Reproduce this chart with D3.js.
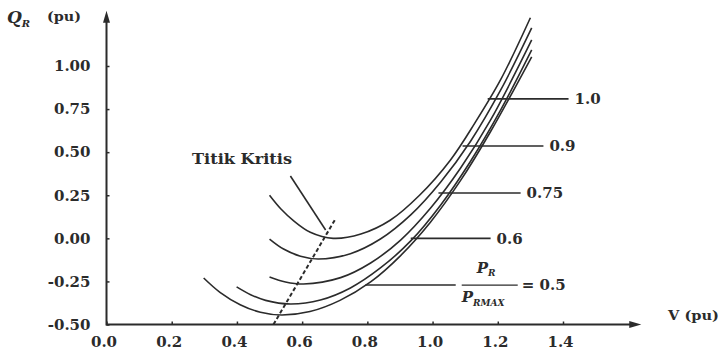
<html>
<head>
<title>Q-V curves</title>
<script src="https://d3js.org/d3.v7.min.js"></script>
<style>
    body { margin: 0; background: #fff; }
    text { font-family: "DejaVu Serif", serif; font-weight: bold; fill: #2b2b2b; }
</style>
</head>
<body>
<div id="chart"></div>
<script type="text/javascript">
    // Data (V and Q_R in pu) ********************************************
    var ratios = ["1.0", "0.9", "0.75", "0.6", "0.5"];

    var vP10 = [0.50, 0.535, 0.575, 0.625, 0.695, 0.78, 0.87, 0.96, 1.055, 1.13, 1.21, 1.30];
    var qP10 = [0.25, 0.17, 0.10, 0.035, 0.0, 0.025, 0.105, 0.25, 0.455, 0.67, 0.925, 1.28];

    var vP09 = [0.50, 0.543, 0.595, 0.65, 0.748, 0.84, 0.933, 1.025, 1.117, 1.209, 1.304];
    var qP09 = [-0.004, -0.062, -0.104, -0.12, -0.089, -0.004, 0.136, 0.327, 0.565, 0.861, 1.221];

    var vP075 = [0.50, 0.549, 0.604, 0.718, 0.81, 0.902, 0.994, 1.086, 1.178, 1.304];
    var qP075 = [-0.224, -0.253, -0.265, -0.228, -0.143, -0.01, 0.176, 0.408, 0.687, 1.151];

    var vP06 = [0.399, 0.442, 0.488, 0.564, 0.656, 0.748, 0.84, 0.933, 1.025, 1.117, 1.209, 1.304];
    var qP06 = [-0.282, -0.327, -0.36, -0.381, -0.358, -0.288, -0.172, -0.015, 0.194, 0.449, 0.745, 1.093];

    var vP05 = [0.298, 0.348, 0.41, 0.472, 0.537, 0.624, 0.716, 0.81, 0.902, 0.994, 1.086, 1.178, 1.304];
    var qP05 = [-0.23, -0.313, -0.385, -0.429, -0.445, -0.425, -0.36, -0.253, -0.10, 0.095, 0.336, 0.62, 1.053];

    // dashed critical-point line and its pointer
    var critV = [0.512, 0.702];
    var critQ = [-0.5, 0.112];
    var pointerV = [0.564, 0.672];
    var pointerQ = [0.362, 0.048];

    // leader lines to the ratio labels
    var leaderQ = [0.809, 0.536, 0.263, 0.0, -0.271];
    var leaderV0 = [1.169, 1.092, 1.018, 0.933, 0.794];
    var leaderV1 = [1.417, 1.340, 1.270, 1.178, 1.071];

    var xTicks = [0.0, 0.2, 0.4, 0.6, 0.8, 1.0, 1.2, 1.4];
    var yTicks = [-0.50, -0.25, 0.00, 0.25, 0.50, 0.75, 1.00];

    // Setup ***********************
    var W = 719, H = 352;
    var ink = "#2b2b2b";

    var x = d3.scaleLinear().domain([0, 1.4]).range([106.5, 563]);
    var y = d3.scaleLinear().domain([-0.5, 1.0]).range([324.5, 66]);

    var svg = d3.select("#chart").append("svg")
        .attr("width", W)
        .attr("height", H);

    // Axes ***********************
    var xAxis = svg.append("g")
        .attr("transform", "translate(0," + y(-0.5) + ")")
        .call(d3.axisBottom(x).tickValues(xTicks).tickSize(-3).tickPadding(12)
            .tickFormat(function (d) { return d.toFixed(1); }));

    var yAxis = svg.append("g")
        .attr("transform", "translate(" + x(0) + ",0)")
        .call(d3.axisLeft(y).tickValues(yTicks).tickSize(-3).tickPadding(16)
            .tickFormat(function (d) { return d.toFixed(2); }));

    [xAxis, yAxis].forEach(function (g) {
        g.select(".domain").remove();
        g.attr("font-family", null).attr("font-size", null);
        g.selectAll(".tick line").attr("stroke", ink).attr("stroke-width", 1.5);
        g.selectAll(".tick text").attr("fill", ink).style("font-size", "15px");
    });
    xAxis.selectAll(".tick text").attr("dx", -3);

    var xEnd = x(1.64), yTop = y(1.32);

    // axis lines with arrow heads
    svg.append("line")
        .attr("x1", x(0)).attr("y1", y(-0.5))
        .attr("x2", xEnd - 6).attr("y2", y(-0.5))
        .attr("stroke", ink).attr("stroke-width", 2);
    svg.append("line")
        .attr("x1", x(0)).attr("y1", y(-0.5) + 1)
        .attr("x2", x(0)).attr("y2", yTop + 6)
        .attr("stroke", ink).attr("stroke-width", 2);

    svg.append("path")
        .attr("d", "M" + xEnd + "," + y(-0.5) + " l-12,-3.5 l0,7 z")
        .attr("fill", ink);
    svg.append("path")
        .attr("d", "M" + x(0) + "," + yTop + " l-3.5,12 l7,0 z")
        .attr("fill", ink);

    // axis titles
    var qLabel = svg.append("text").attr("x", 7).attr("y", 23);
    qLabel.append("tspan").style("font-style", "italic").style("font-size", "17px").text("Q");
    qLabel.append("tspan").style("font-style", "italic").style("font-size", "10px")
        .attr("dy", 4).text("R");

    svg.append("text")
        .attr("x", 47).attr("y", 21)
        .attr("textLength", 34).attr("lengthAdjust", "spacingAndGlyphs")
        .style("font-size", "12px")
        .text("(pu)");

    svg.append("text")
        .attr("x", 668).attr("y", 320)
        .attr("textLength", 51).attr("lengthAdjust", "spacingAndGlyphs")
        .style("font-size", "12px")
        .text("V (pu)");

    // Curves ***********************
    var series = [
        {key: "1.0", v: vP10, q: qP10},
        {key: "0.9", v: vP09, q: qP09},
        {key: "0.75", v: vP075, q: qP075},
        {key: "0.6", v: vP06, q: qP06},
        {key: "0.5", v: vP05, q: qP05}
    ];

    var line = d3.line()
        .x(function (d) { return x(d[0]); })
        .y(function (d) { return y(d[1]); })
        .curve(d3.curveCatmullRom.alpha(0.5));

    svg.selectAll(".curve")
        .data(series)
        .enter()
        .append("path")
        .attr("class", "curve")
        .attr("fill", "none")
        .attr("stroke", ink)
        .attr("stroke-width", 1.6)
        .attr("d", function (s) {
            return line(s.v.map(function (v, i) { return [v, s.q[i]]; }));
        });

    // critical point line (dashed) and pointer
    svg.append("path")
        .attr("fill", "none")
        .attr("stroke", ink)
        .attr("stroke-width", 2)
        .attr("stroke-dasharray", "4,2.5")
        .attr("d", d3.line()([[x(critV[0]), y(critQ[0])], [x(critV[1]), y(critQ[1])]]));

    svg.append("path")
        .attr("fill", "none")
        .attr("stroke", ink)
        .attr("stroke-width", 1.6)
        .attr("d", d3.line()([[x(pointerV[0]), y(pointerQ[0])], [x(pointerV[1]), y(pointerQ[1])]]));

    svg.append("text")
        .attr("x", 192).attr("y", 164)
        .attr("textLength", 100).attr("lengthAdjust", "spacingAndGlyphs")
        .style("font-size", "14px")
        .text("Titik Kritis");

    // Ratio labels ***********************
    ratios.forEach(function (r, i) {
        svg.append("line")
            .attr("x1", x(leaderV0[i])).attr("y1", y(leaderQ[i]))
            .attr("x2", x(leaderV1[i])).attr("y2", y(leaderQ[i]))
            .attr("stroke", ink).attr("stroke-width", 1.6);

        if (r !== "0.5") {
            svg.append("text")
                .attr("x", x(leaderV1[i]) + 6)
                .attr("y", y(leaderQ[i]))
                .attr("dy", "0.36em")
                .style("font-size", "15px")
                .text(r);
        }
    });

    // P_R / P_RMAX = 0.5
    var fx = x(leaderV1[4]) + 6, fy = y(leaderQ[4]);
    var num = svg.append("text").attr("x", fx + 15).attr("y", fy - 12);
    num.append("tspan").style("font-style", "italic").style("font-size", "15px").text("P");
    num.append("tspan").style("font-style", "italic").style("font-size", "9px").attr("dy", 3).text("R");

    svg.append("line")
        .attr("x1", fx).attr("y1", fy)
        .attr("x2", fx + 56).attr("y2", fy)
        .attr("stroke", ink).attr("stroke-width", 1.2);

    var den = svg.append("text").attr("x", fx).attr("y", fy + 17);
    den.append("tspan").style("font-style", "italic").style("font-size", "15px").text("P");
    den.append("tspan").style("font-style", "italic").style("font-size", "9px").attr("dy", 4).text("RMAX");

    svg.append("text")
        .attr("x", fx + 60).attr("y", fy)
        .attr("dy", "0.36em")
        .style("font-size", "15px")
        .text("= 0.5");
</script>
</body>
</html>
